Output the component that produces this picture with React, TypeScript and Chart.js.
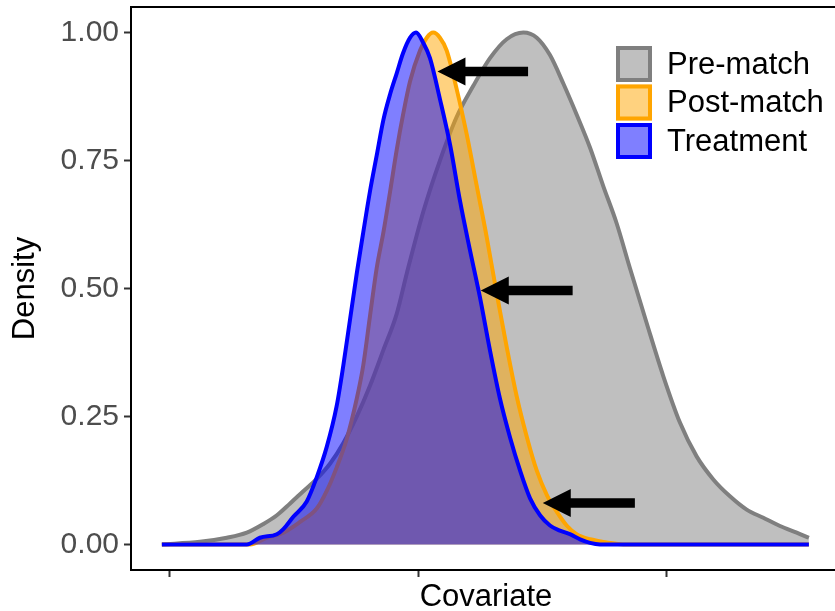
import React, { useEffect, useRef } from "react";
import { Chart, registerables } from "chart.js";

Chart.register(...registerables);

// ---- data ----
const seriesNames = ["Pre-match", "Post-match", "Treatment"];
const xTicks = [-1, 0, 1];
const yTicks = [0, 0.25, 0.5, 0.75, 1];

const preX = [-1.029, -0.876, -0.768, -0.688, -0.621, -0.567, -0.514, -0.461, -0.407, -0.353, -0.3, -0.246, -0.193, -0.139, -0.086, -0.045, 0.021, 0.088, 0.155, 0.222, 0.289, 0.356, 0.423, 0.477, 0.53, 0.584, 0.637, 0.691, 0.744, 0.798, 0.851, 0.918, 0.985, 1.052, 1.119, 1.186, 1.253, 1.32, 1.387, 1.454, 1.521, 1.57];
const preY = [0, 0.005, 0.013, 0.023, 0.04, 0.057, 0.08, 0.104, 0.128, 0.158, 0.198, 0.25, 0.31, 0.38, 0.45, 0.53, 0.65, 0.75, 0.835, 0.896, 0.95, 0.987, 1.0, 0.99, 0.956, 0.9, 0.84, 0.775, 0.7, 0.627, 0.54, 0.433, 0.329, 0.238, 0.172, 0.127, 0.094, 0.068, 0.052, 0.036, 0.023, 0.013];

const postX = [-1.029, -0.675, -0.608, -0.541, -0.474, -0.407, -0.367, -0.327, -0.287, -0.246, -0.22, -0.193, -0.166, -0.139, -0.112, -0.086, -0.06, -0.032, 0.008, 0.035, 0.061, 0.088, 0.115, 0.155, 0.196, 0.236, 0.276, 0.316, 0.356, 0.396, 0.437, 0.477, 0.517, 0.557, 0.597, 0.637, 0.691, 0.758, 0.824, 1.57];
const postY = [0, 0, 0.013, 0.023, 0.044, 0.07, 0.104, 0.15, 0.205, 0.285, 0.35, 0.446, 0.54, 0.61, 0.69, 0.77, 0.84, 0.905, 0.965, 0.99, 1.0, 0.99, 0.965, 0.89, 0.8, 0.7, 0.6, 0.49, 0.386, 0.29, 0.21, 0.144, 0.097, 0.064, 0.037, 0.02, 0.01, 0.004, 0, 0];

const treatX = [-1.029, -0.688, -0.635, -0.567, -0.541, -0.501, -0.447, -0.407, -0.367, -0.327, -0.3, -0.273, -0.246, -0.22, -0.193, -0.166, -0.139, -0.112, -0.086, -0.06, -0.032, -0.008, 0.021, 0.048, 0.088, 0.129, 0.169, 0.209, 0.249, 0.289, 0.329, 0.369, 0.41, 0.45, 0.49, 0.53, 0.57, 0.61, 0.651, 0.691, 0.731, 1.57];
const treatY = [0, 0, 0.013, 0.02, 0.03, 0.054, 0.084, 0.131, 0.19, 0.27, 0.35, 0.44, 0.53, 0.61, 0.69, 0.76, 0.83, 0.88, 0.92, 0.96, 0.99, 1.0, 0.98, 0.95, 0.87, 0.78, 0.67, 0.574, 0.482, 0.379, 0.285, 0.21, 0.144, 0.09, 0.057, 0.037, 0.027, 0.02, 0.01, 0.003, 0, 0];

// arrows (data coordinates)
const arrowTailX = [0.442, 0.621, 0.871];
const arrowTipX = [0.078, 0.252, 0.501];
const arrowY = [0.924, 0.496, 0.081];

// ---- styles ----
const FAMILY = "'Liberation Sans', Arial, Helvetica, sans-serif";
const lineColors = ["#7F7F7F", "#FFA500", "#0000FF"];
const fillColors = ["rgba(127,127,127,0.5)", "rgba(255,165,0,0.5)", "rgba(0,0,255,0.5)"];

const toPoints = (xs: number[], ys: number[]) => xs.map((x, i) => ({ x, y: ys[i] }));

const panelBorder = {
  id: "panelBorder",
  afterDatasetsDraw(chart: any) {
    const { ctx, chartArea } = chart;
    ctx.save();
    ctx.strokeStyle = "#000000";
    ctx.lineWidth = 2;
    ctx.strokeRect(chartArea.left, chartArea.top, chartArea.right - chartArea.left, chartArea.bottom - chartArea.top);
    ctx.restore();
  },
};

const arrows = {
  id: "arrows",
  afterDatasetsDraw(chart: any) {
    const { ctx } = chart;
    const xs = chart.scales.x;
    const ys = chart.scales.y;
    const headLen = 28;
    const headHalf = 14;
    const shaftHalf = 4.7;
    ctx.save();
    ctx.fillStyle = "#000000";
    for (let i = 0; i < arrowY.length; i++) {
      const tip = xs.getPixelForValue(arrowTipX[i]);
      const tail = xs.getPixelForValue(arrowTailX[i]);
      const y = ys.getPixelForValue(arrowY[i]);
      ctx.beginPath();
      ctx.moveTo(tip, y);
      ctx.lineTo(tip + headLen, y - headHalf);
      ctx.lineTo(tip + headLen, y - shaftHalf);
      ctx.lineTo(tail, y - shaftHalf);
      ctx.lineTo(tail, y + shaftHalf);
      ctx.lineTo(tip + headLen, y + shaftHalf);
      ctx.lineTo(tip + headLen, y + headHalf);
      ctx.closePath();
      ctx.fill();
    }
    ctx.restore();
  },
};

const customLegend = {
  id: "customLegend",
  afterDraw(chart: any) {
    const { ctx } = chart;
    const boxLeft = 616;
    const boxTop = 46;
    const box = 36;
    const step = 38.5;
    const textX = 667;
    ctx.save();
    for (let i = 0; i < seriesNames.length; i++) {
      const y = boxTop + i * step;
      ctx.fillStyle = "#FFFFFF";
      ctx.fillRect(boxLeft, y, box, box);
      ctx.fillStyle = fillColors[i];
      ctx.fillRect(boxLeft, y, box, box);
      ctx.strokeStyle = lineColors[i];
      ctx.lineWidth = 4;
      ctx.strokeRect(boxLeft + 2, y + 2, box - 4, box - 4);
      ctx.fillStyle = "#000000";
      ctx.font = `31px ${FAMILY}`;
      ctx.textAlign = "left";
      ctx.textBaseline = "middle";
      ctx.fillText(seriesNames[i], textX, y + box / 2 + 1);
    }
    ctx.restore();
  },
};

export default function App() {
  const canvasRef = useRef<HTMLCanvasElement | null>(null);

  useEffect(() => {
    if (!canvasRef.current) return;
    Chart.defaults.font.family = FAMILY;
    const seriesX = [preX, postX, treatX];
    const seriesY = [preY, postY, treatY];
    const chart = new Chart(canvasRef.current, {
      type: "line",
      data: {
        datasets: seriesNames.map((name, i) => ({
          label: name,
          data: toPoints(seriesX[i], seriesY[i]),
          borderColor: lineColors[i],
          backgroundColor: fillColors[i],
          borderWidth: 4,
          fill: "origin",
          pointRadius: 0,
          cubicInterpolationMode: "monotone" as const,
          order: seriesNames.length - i,
        })),
      },
      options: {
        responsive: false,
        animation: false,
        layout: { padding: { left: 0, top: 7, right: 4, bottom: 0 } },
        plugins: {
          legend: { display: false },
          tooltip: { enabled: false },
        },
        scales: {
          x: {
            type: "linear",
            min: -1.153,
            max: 1.699,
            afterBuildTicks: (s: any) => {
              s.ticks = xTicks.map((v) => ({ value: v }));
            },
            afterFit: (s: any) => {
              s.height = 41;
              s.paddingLeft = 0;
              s.paddingRight = 0;
            },
            grid: { drawOnChartArea: false, drawTicks: true, tickLength: 7, tickColor: "#333333", tickWidth: 2 },
            border: { display: false },
            ticks: { display: false },
            title: {
              display: true,
              text: "Covariate",
              color: "#000000",
              font: { family: FAMILY, size: 31, lineHeight: 0.9 },
              padding: 0,
            },
          },
          y: {
            type: "linear",
            min: -0.05,
            max: 1.05,
            afterBuildTicks: (s: any) => {
              s.ticks = yTicks.map((v) => ({ value: v }));
            },
            afterFit: (s: any) => {
              s.width = 131;
              s.paddingTop = 0;
              s.paddingBottom = 0;
            },
            grid: { drawOnChartArea: false, drawTicks: true, tickLength: 7, tickColor: "#333333", tickWidth: 2 },
            border: { display: false },
            ticks: {
              color: "#4D4D4D",
              font: { family: FAMILY, size: 30 },
              padding: 5,
              callback: (v: any) => Number(v).toFixed(2),
            },
            title: {
              display: true,
              text: "Density",
              color: "#000000",
              font: { family: FAMILY, size: 31, lineHeight: 1 },
              padding: { top: 10, bottom: 0 },
            },
          },
        },
      },
      plugins: [panelBorder, arrows, customLegend],
    });
    return () => chart.destroy();
  }, []);

  return (
    <div
      style={{
        position: "fixed",
        left: 0,
        top: 0,
        width: 835,
        height: 611,
        overflow: "hidden",
        background: "#FFFFFF",
      }}
    >
      <canvas ref={canvasRef} width={845} height={611} style={{ display: "block", width: 845, height: 611 }} />
    </div>
  );
}
